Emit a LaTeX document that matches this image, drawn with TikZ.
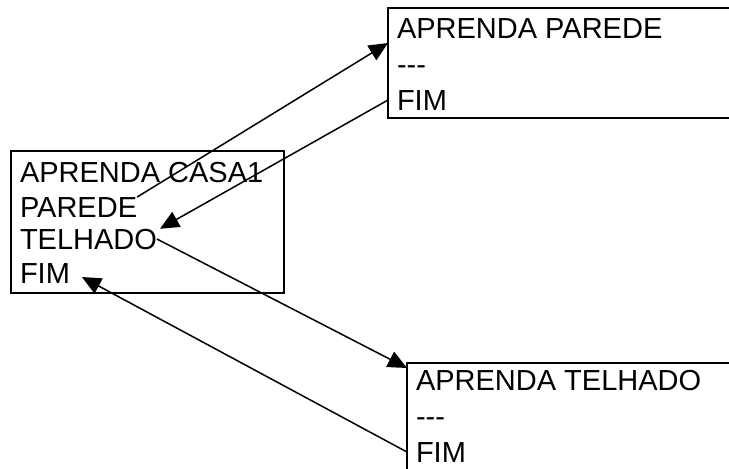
\documentclass[tikz,border=0pt]{standalone}
\usepackage{fontspec}
\setmainfont{Liberation Sans}
\usetikzlibrary{arrows.meta}
\tikzset{
  frame/.style={draw, line width=2pt, inner sep=0pt, outer sep=0pt, anchor=north west},
  txt/.style={inner sep=0pt, outer sep=0pt, anchor=base west, font=\fontsize{29}{34}\selectfont},
  link/.style={line width=1.5pt, -{Triangle[length=19pt,width=17pt]}}
}
\begin{document}
\begin{tikzpicture}[x=1pt,y=-1pt]
\useasboundingbox (0,0) rectangle (729,469);
\clip (0,0) rectangle (729,469);
\node[frame, minimum width=273pt, minimum height=142pt] (casa) at (11,151) {};
\node[frame, minimum width=400pt, minimum height=110pt] (parede) at (388,8) {};
\node[frame, minimum width=400pt, minimum height=200pt] (telhado) at (407,363) {};
\node[txt] (casatitle) at (20,182) {APRENDA CASA1};
\node[txt] (casaparede) at (20,217) {PAREDE};
\node[txt] (casatelhado) at (20,249) {TELHADO};
\node[txt] (casafim) at (20,283) {FIM};
\node[txt] (paredetitle) at (397,38) {APRENDA PAREDE};
\node[txt] (paredesep) at (397,74) {-{}-{}-};
\node[txt] (paredefim) at (397,110) {FIM};
\node[txt] (telhadotitle) at (416,390) {APRENDA TELHADO};
\node[txt] (telhadosep) at (416,426) {-{}-{}-};
\node[txt] (telhadofim) at (416,462) {FIM};
\coordinate (toparede) at ([yshift=-5pt]parede.west |- paredetitle.base);
\coordinate (totelhado) at ([yshift=-5pt]telhado.north west);
\coordinate (backtelhado) at ([xshift=3pt]casatelhado.north east);
\coordinate (backfim) at ([xshift=12pt,yshift=6pt]casafim.base east);
\draw[link] (casaparede.north east) -- (toparede);
\draw[link] (parede.west |- paredefim.west) -- (backtelhado);
\draw[link] (casatelhado.east) -- (totelhado);
\draw[link] (telhado.west |- telhadofim.west) -- (backfim);
\end{tikzpicture}
\end{document}
